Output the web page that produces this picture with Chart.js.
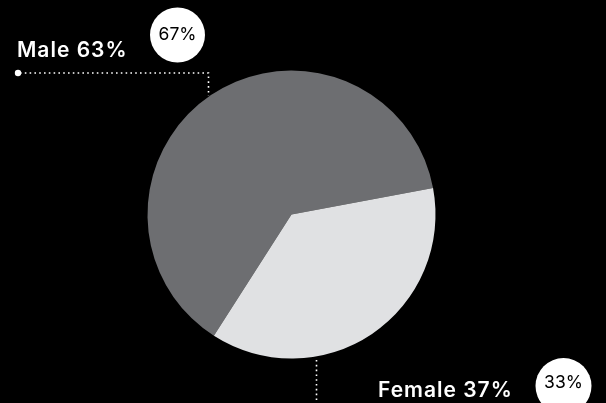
<!DOCTYPE html>
<html>
<head>
<meta charset="utf-8">
<script src="https://cdn.jsdelivr.net/npm/chart.js@4/dist/chart.umd.min.js"></script>
<style>
    html, body { margin: 0; padding: 0; background: #000; }
    #wrap { width: 606px; height: 403px; position: relative; }
</style>
</head>
<body>
<div id="wrap"><canvas id="genderPie"></canvas></div>
<script>
var labels = ["Male", "Female"];
var values = [63, 37];
var badges = ["67%", "33%"];
var colors = ["#6d6e71", "#e0e1e3"];

// labels, leader lines and round badges drawn on top of the pie
var calloutPlugin = {
    id: 'callouts',
    afterDraw: function(chart) {
        var ctx = chart.ctx;
        ctx.save();

        // dotted leader lines
        ctx.strokeStyle = '#ffffff';
        ctx.lineWidth = 1.6;
        ctx.setLineDash([1.6, 3.2]);
        ctx.beginPath();
        ctx.moveTo(20, 73);
        ctx.lineTo(208.5, 73);
        ctx.lineTo(208.5, 96);
        ctx.stroke();
        ctx.beginPath();
        ctx.moveTo(316.5, 360);
        ctx.lineTo(316.5, 403);
        ctx.stroke();
        ctx.setLineDash([]);

        ctx.fillStyle = '#ffffff';
        ctx.beginPath();
        ctx.arc(18, 73, 3.2, 0, Math.PI * 2);
        ctx.fill();

        // series labels
        ctx.font = '600 21px Inter, "Open Sans", sans-serif';
        ctx.letterSpacing = '1px';
        ctx.textBaseline = 'alphabetic';
        ctx.textAlign = 'left';
        ctx.fillText(labels[0] + ' ' + values[0] + '%', 17, 57);
        ctx.fillText(labels[1] + ' ' + values[1] + '%', 378, 397);

        // badges
        var spots = [[177.5, 35, 27.5], [563.5, 386, 28]];
        ctx.letterSpacing = '0px';
        for (var i = 0; i < badges.length; i++) {
            ctx.fillStyle = '#ffffff';
            ctx.beginPath();
            ctx.arc(spots[i][0], spots[i][1], spots[i][2], 0, Math.PI * 2);
            ctx.fill();
            ctx.fillStyle = '#000000';
            ctx.font = '400 17.5px Inter, "Open Sans", sans-serif';
            ctx.textAlign = 'center';
            ctx.textBaseline = 'middle';
            ctx.fillText(badges[i], spots[i][0], spots[i][1] - (i === 1 ? 3 : 0));
        }
        ctx.restore();
    }
};

var genderPie = new Chart(document.getElementById('genderPie'), {
    type: 'pie',
    data: {
        labels: labels,
        datasets: [{
            data: values,
            backgroundColor: colors,
            borderWidth: 0
        }]
    },
    options: {
        responsive: true,
        maintainAspectRatio: false,
        animation: false,
        rotation: 212.6,
        layout: {
            padding: { left: 147.5, right: 170.5, top: 70.5, bottom: 44.5 }
        },
        plugins: {
            legend: { display: false },
            tooltip: { enabled: false }
        }
    },
    plugins: [calloutPlugin]
});
</script>
</body>
</html>
